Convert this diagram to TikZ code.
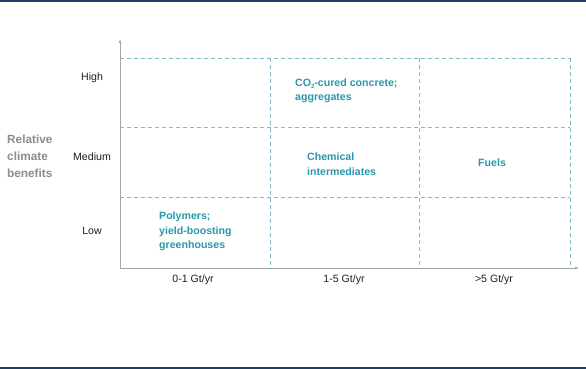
\documentclass[tikz,border=0pt]{standalone}
\usepackage{fontspec}
\setmainfont{Liberation Sans}
\usetikzlibrary{arrows.meta}
\definecolor{navy}{RGB}{31,62,99}
\definecolor{tealtxt}{RGB}{40,152,172}
\definecolor{griddash}{RGB}{125,190,200}
\definecolor{axisgray}{RGB}{165,165,165}
\definecolor{labgray}{RGB}{140,140,140}
\definecolor{cattext}{RGB}{30,30,30}
\tikzset{
  gridline/.style={griddash, dash pattern=on 4pt off 3pt, line width=0.6pt},
  axisline/.style={axisgray, line width=0.7pt, -{Latex[length=4pt,width=3pt]}},
  cat/.style={font=\fontsize{10.6}{12}\selectfont, text=cattext, inner sep=0},
  item/.style={font=\fontsize{10.6}{14.5}\selectfont\bfseries, text=tealtxt, align=left, inner sep=0, anchor=west},
}
\newcommand{\lowsub}[1]{\raisebox{-0.45ex}{\fontsize{6}{6}\selectfont #1}}
\begin{document}
\begin{tikzpicture}[x=1pt,y=-1pt]
\useasboundingbox (0,0) rectangle (586,369);
\fill[white] (0,0) rectangle (586,369);
\draw[navy, line width=1.6pt] (0,0.8) -- (586,0.8);
\draw[navy, line width=1.6pt] (0,368.2) -- (586,368.2);
% grid
\draw[gridline] (120,58) -- (570,58);
\draw[gridline] (120,127) -- (570,127);
\draw[gridline] (120,197) -- (570,197);
\draw[gridline] (270,58) -- (270,268);
\draw[gridline] (419,58) -- (419,268);
\draw[gridline] (570,58) -- (570,268);
% axes
\coordinate (o) at (120,268);
\coordinate (ytop) at (120,39);
\coordinate (xend) at (579,268);
\draw[axisline] (o) -- (ytop);
\draw[axisline] (o) -- (xend);
% y labels
\node[cat] (high) at (92,78) {High};
\node[cat] (med) at (92,157) {Medium};
\node[cat] (low) at (92,231) {Low};
\node[font=\fontsize{11.8}{17}\selectfont\bfseries, text=labgray, align=left, inner sep=0, anchor=west] (rcb) at (7,156) {Relative\\climate\\benefits};
% x labels
\node[cat] (x1) at (193,280) {0-1 Gt/yr};
\node[cat] (x2) at (344,280) {1-5 Gt/yr};
\node[cat] (x3) at (494,280) {>5 Gt/yr};
% items
\node[item] (conc) at (295,91) {CO\lowsub{2}-cured concrete;\\aggregates};
\node[item] (chem) at (307,164) {Chemical\\intermediates};
\node[item] (fuel) at (478,163) {Fuels};
\node[item] (poly) at (159,231.5) {Polymers;\\yield-boosting\\greenhouses};
\end{tikzpicture}
\end{document}
